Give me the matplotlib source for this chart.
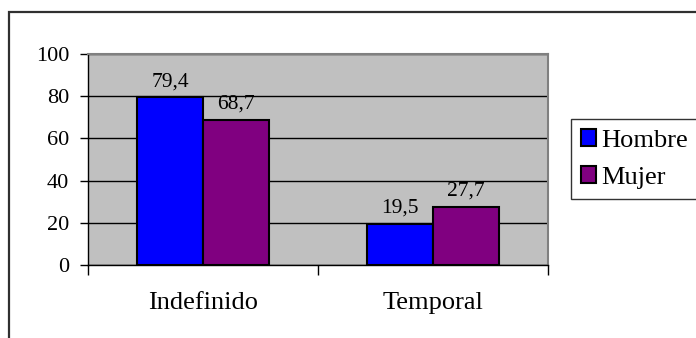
import matplotlib.pyplot as plt
from matplotlib.patches import Rectangle
import numpy as np

# Porcentaje de contratos por tipo y sexo
categorias = ['Indefinido', 'Temporal']
hombre = [79.4, 19.5]
mujer = [68.7, 27.7]
series = ['Hombre', 'Mujer']
colores = ['#0000FF', '#800080']

plt.rcParams['font.family'] = ['Liberation Serif', 'DejaVu Serif']
plt.rcParams['font.size'] = 15.5

W, H = 696, 338
fig = plt.figure(figsize=(W / 100, H / 100), dpi=100)

# marco exterior del grafico (sale por la derecha y por abajo)
fig.patches.append(Rectangle((9 / W, -0.2), 1.2, 1.2 - 12 / H, transform=fig.transFigure,
                             fill=False, edgecolor='#303030', linewidth=1.6))

ax = fig.add_axes([88 / W, 1 - 265 / H, 460 / W, 211 / H])
ax.set_facecolor('#C0C0C0')

x = np.arange(len(categorias))
ancho = 1 / 3.5  # separacion entre grupos del 150 %

for i, (valores, color) in enumerate(zip([hombre, mujer], colores)):
    pos = x + (i - 0.5) * ancho
    ax.bar(pos, valores, width=ancho, color=color, edgecolor='black', linewidth=1.5,
           label=series[i], zorder=3)
    for px, v in zip(pos, valores):
        ax.annotate(f'{v:.1f}'.replace('.', ','), (px, v), xytext=(0, 4.5),
                    textcoords='offset points', ha='center', va='bottom')

ax.set_xlim(-0.5, len(categorias) - 0.5)
ax.set_ylim(0, 100)
ax.set_yticks(range(0, 101, 20))
ax.yaxis.grid(True, color='black', linewidth=1)
ax.set_axisbelow(True)

# marcas del eje x entre categorias, etiquetas en el centro
ax.set_xticks(np.arange(-0.5, len(categorias), 1))
ax.set_xticklabels([])
ax.set_xticks(x, minor=True)
ax.set_xticklabels(categorias, minor=True, fontsize=19)
ax.tick_params(axis='x', which='major', length=7, width=1, direction='out')
ax.tick_params(axis='x', which='minor', length=0, pad=19.5)
ax.tick_params(axis='y', length=6, width=1, direction='out', pad=7.5, labelsize=16)

for lado in ['top', 'right']:
    ax.spines[lado].set_color('#808080')
    ax.spines[lado].set_linewidth(1.5)
for lado in ['left', 'bottom']:
    ax.spines[lado].set_color('black')
    ax.spines[lado].set_linewidth(1)

leg = ax.legend(loc='upper left', bbox_to_anchor=(571 / W, 1 - 119 / H),
                bbox_transform=fig.transFigure, frameon=True, fancybox=False,
                edgecolor='black', fontsize=19, handlelength=0.55, handleheight=0.6,
                handletextpad=0.22, borderpad=0.38, labelspacing=0.55, borderaxespad=0)
leg.get_frame().set_linewidth(1)

fig.savefig('out.png', dpi=100)
